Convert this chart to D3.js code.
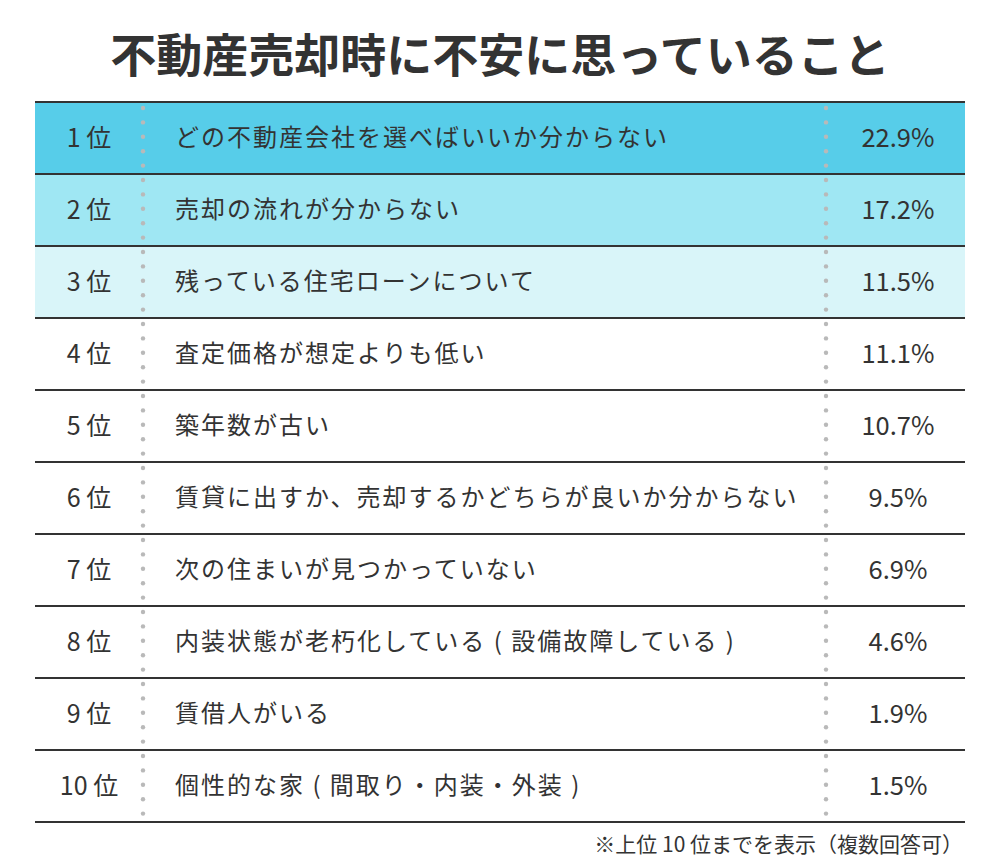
<!DOCTYPE html>
<html>
  <head>
    <meta charset="UTF-8" />
    <title>不動産売却時に不安に思っていること</title>
    <style>
      body { margin: 0; background: #fff; }
      text { font-family: "Noto Sans CJK JP", "Noto Sans", sans-serif; fill: #333; }
    </style>
  </head>
  <body>
    <script src="https://cdn.jsdelivr.net/npm/d3@7"></script>
    <script>
      var ranks = ["1 位", "2 位", "3 位", "4 位", "5 位", "6 位", "7 位", "8 位", "9 位", "10 位"];
      var labels = [
        "どの不動産会社を選べばいいか分からない",
        "売却の流れが分からない",
        "残っている住宅ローンについて",
        "査定価格が想定よりも低い",
        "築年数が古い",
        "賃貸に出すか、売却するかどちらが良いか分からない",
        "次の住まいが見つかっていない",
        "内装状態が老朽化している ( 設備故障している )",
        "賃借人がいる",
        "個性的な家 ( 間取り・内装・外装 )"
      ];
      var values = [22.9, 17.2, 11.5, 11.1, 10.7, 9.5, 6.9, 4.6, 1.9, 1.5];
      var rowColours = ["#57cde9", "#9fe7f3", "#d9f5f9"];

      var width = 1000, height = 866;
      var tableLeft = 35, tableRight = 965, tableTop = 102, tableBottom = 822;

      var svg = d3.select("body").append("svg")
        .attr("width", width)
        .attr("height", height);

      var y = d3.scaleBand()
        .domain(d3.range(ranks.length))
        .range([tableTop, tableBottom]);

      // title
      svg.append("text")
        .attr("x", width / 2)
        .attr("y", 72)
        .attr("text-anchor", "middle")
        .attr("font-size", "46px")
        .attr("font-weight", "bold")
        .style("fill", "#333")
        .text("不動産売却時に不安に思っていること");

      var rows = svg.append("g").selectAll("g")
        .data(d3.range(ranks.length))
        .enter()
        .append("g");

      rows.append("rect")
        .attr("x", tableLeft)
        .attr("y", function(d) { return y(d); })
        .attr("width", tableRight - tableLeft)
        .attr("height", y.bandwidth())
        .style("fill", function(d) { return d < rowColours.length ? rowColours[d] : "#fff"; });

      // dotted column separators
      var dots = d3.range(tableTop + 6, tableBottom, 14.4);
      [143, 826].forEach(function(cx) {
        svg.append("g").selectAll("circle")
          .data(dots)
          .enter()
          .append("circle")
          .attr("cx", cx)
          .attr("cy", function(d) { return d; })
          .attr("r", 2.2)
          .style("fill", "#b9b9b9");
      });

      // horizontal rules
      svg.append("g").selectAll("line")
        .data(d3.range(ranks.length + 1))
        .enter()
        .append("line")
        .attr("x1", tableLeft)
        .attr("x2", tableRight)
        .attr("y1", function(d) { return d < ranks.length ? y(d) : tableBottom; })
        .attr("y2", function(d) { return d < ranks.length ? y(d) : tableBottom; })
        .style("stroke", "#333")
        .style("stroke-width", 2);

      rows.append("text")
        .attr("x", 89)
        .attr("y", function(d) { return y(d) + y.bandwidth() / 2; })
        .attr("dy", "0.35em")
        .attr("text-anchor", "middle")
        .attr("font-size", "25px")
        .text(function(d) { return ranks[d]; });

      rows.append("text")
        .attr("x", 175)
        .attr("y", function(d) { return y(d) + y.bandwidth() / 2; })
        .attr("dy", "0.35em")
        .attr("font-size", "24px")
        .attr("letter-spacing", "2px")
        .text(function(d) { return labels[d]; });

      rows.append("text")
        .attr("x", 898)
        .attr("y", function(d) { return y(d) + y.bandwidth() / 2; })
        .attr("dy", "0.35em")
        .attr("text-anchor", "middle")
        .attr("font-size", "25.5px")
        .text(function(d) { return values[d].toFixed(1) + "%"; });

      svg.append("text")
        .attr("x", 963)
        .attr("y", 852)
        .attr("text-anchor", "end")
        .attr("font-size", "21px")
        .text("※上位 10 位までを表示（複数回答可）");
    </script>
  </body>
</html>
